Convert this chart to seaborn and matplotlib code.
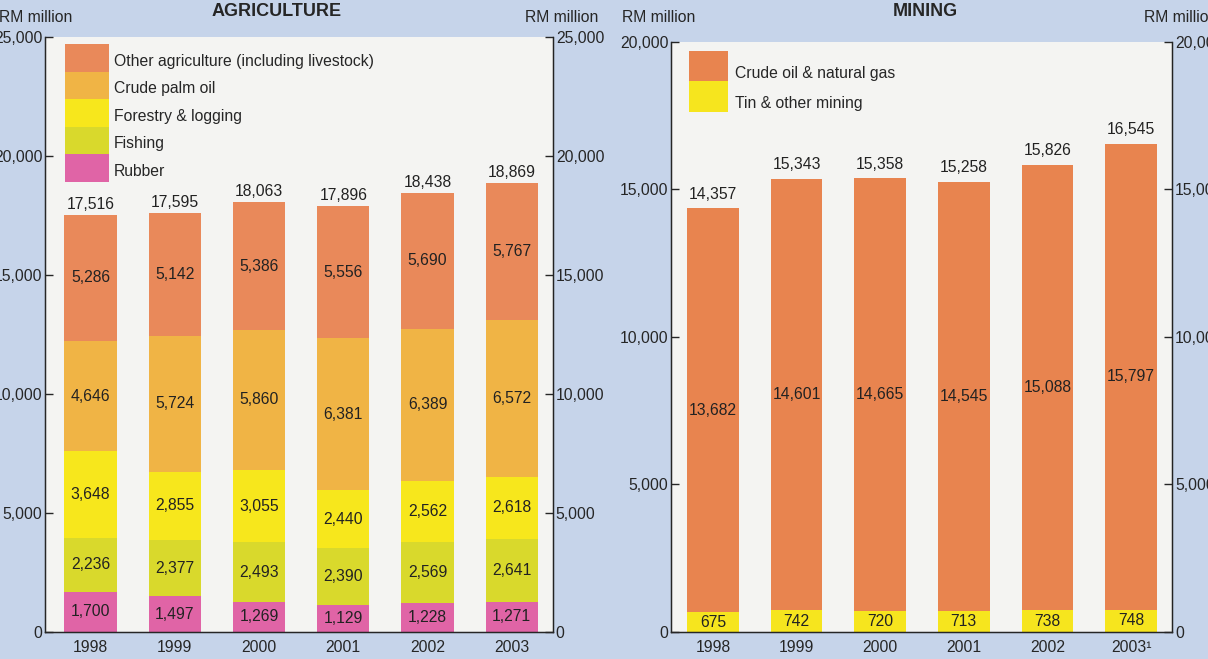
import matplotlib
matplotlib.use("Agg")
import matplotlib.pyplot as plt
import matplotlib.ticker as mticker
from matplotlib.patches import Patch
from matplotlib.transforms import ScaledTranslation
import numpy as np
import pandas as pd
import seaborn as sns

sns.set_style("white")
plt.rcParams["font.family"] = ["Liberation Sans", "DejaVu Sans"]

years = ["1998", "1999", "2000", "2001", "2002", "2003"]
mining_years = ["1998", "1999", "2000", "2001", "2002", "2003\u00b9"]

# agriculture, RM million (bottom -> top of stack)
rubber = [1700, 1497, 1269, 1129, 1228, 1271]
fishing = [2236, 2377, 2493, 2390, 2569, 2641]
forestry = [3648, 2855, 3055, 2440, 2562, 2618]
palm_oil = [4646, 5724, 5860, 6381, 6389, 6572]
other_agri = [5286, 5142, 5386, 5556, 5690, 5767]
agri_totals = [17516, 17595, 18063, 17896, 18438, 18869]

# mining, RM million
tin = [675, 742, 720, 713, 738, 748]
crude_oil = [13682, 14601, 14665, 14545, 15088, 15797]
mining_totals = [14357, 15343, 15358, 15258, 15826, 16545]

agri_names = ["Rubber", "Fishing", "Forestry & logging", "Crude palm oil",
              "Other agriculture (including livestock)"]
agri_colors = ["#e064a6", "#d9d92c", "#f7e71c", "#f0b445", "#e9895a"]
mining_names = ["Tin & other mining", "Crude oil & natural gas"]
mining_colors = ["#f6e51e", "#e8844f"]

bg = "#c6d4ea"
panel = "#f4f4f2"
fs = 11.3

fig = plt.figure(figsize=(12.08, 6.59), dpi=100, facecolor=bg)
ax1 = fig.add_axes([0.0373, 0.041, 0.4205, 0.903])
ax2 = fig.add_axes([0.5555, 0.041, 0.4148, 0.8953])


def stacked(ax, labels, series, colors, totals, ymax, total_pad):
    df = pd.DataFrame({"year": labels})
    cum = np.cumsum(np.array(series), axis=0)
    # draw tallest cumulative bar first so lower segments sit on top
    for i in range(len(series) - 1, -1, -1):
        df["h"] = cum[i]
        sns.barplot(data=df, x="year", y="h", color=colors[i], saturation=1,
                    width=0.62, errorbar=None, ax=ax, linewidth=0)
    for i, s in enumerate(series):
        low = cum[i] - np.array(s)
        for j, v in enumerate(s):
            ax.text(j, low[j] + v / 2, f"{v:,}", ha="center", va="center",
                    fontsize=fs, color="#222222")
    for j, t in enumerate(totals):
        ax.annotate(f"{t:,}", (j, t), xytext=(0, total_pad), textcoords="offset points",
                    ha="center", va="bottom", fontsize=fs, color="#222222")

    ax.set_facecolor(panel)
    ax.set_ylim(0, ymax)
    ax.set_xlabel("")
    ax.set_ylabel("")
    ax.yaxis.set_major_locator(mticker.MultipleLocator(5000))
    ax.yaxis.set_major_formatter(mticker.FuncFormatter(lambda v, p: f"{int(v):,}"))
    ax.tick_params(axis="y", direction="in", length=6, width=1, labelsize=fs, pad=2)
    ax.tick_params(axis="x", which="major", length=0, labelsize=fs, pad=6)
    ax.xaxis.set_minor_locator(mticker.FixedLocator([0.5, 1.5, 2.5, 3.5, 4.5]))
    ax.tick_params(axis="x", which="minor", direction="in", length=9, width=1)
    ax.spines["top"].set_visible(False)
    for sp in ["left", "right", "bottom"]:
        ax.spines[sp].set_color("#222222")
        ax.spines[sp].set_linewidth(1)

    axr = ax.twinx()
    axr.set_ylim(0, ymax)
    axr.yaxis.set_major_locator(mticker.MultipleLocator(5000))
    axr.yaxis.set_major_formatter(mticker.FuncFormatter(lambda v, p: f"{int(v):,}"))
    axr.tick_params(axis="y", direction="in", length=6, width=1, labelsize=fs, pad=2)
    axr.spines["top"].set_visible(False)
    axr.spines["right"].set_color("#222222")


stacked(ax1, years, [rubber, fishing, forestry, palm_oil, other_agri],
        agri_colors, agri_totals, 25000, 2)
ax1.set_xlim(-0.54, 5.49)

stacked(ax2, mining_years, [tin, crude_oil], mining_colors, mining_totals, 20000, 5)
ax2.set_xlim(-0.5, 5.49)

h1 = [Patch(facecolor=c, edgecolor="none") for c in agri_colors[::-1]]
leg1 = ax1.legend(h1, agri_names[::-1], loc="upper left", bbox_to_anchor=(0.039, 0.988),
                  frameon=False, fontsize=fs, handlelength=2.81, handleheight=2.32,
                  labelspacing=0, handletextpad=0.31, borderaxespad=0, borderpad=0)

h2 = [Patch(facecolor=c, edgecolor="none") for c in mining_colors[::-1]]
leg2 = ax2.legend(h2, mining_names[::-1], loc="upper left", bbox_to_anchor=(0.036, 0.985),
                  frameon=False, fontsize=fs, handlelength=2.5, handleheight=2.6,
                  labelspacing=0, handletextpad=0.4, borderaxespad=0, borderpad=0)

# legend labels sit a little below the middle of their swatches in the original
for leg, dy in [(leg1, 3), (leg2, 7)]:
    for t in leg.get_texts():
        t.set_transform(t.get_transform() + ScaledTranslation(0, -dy / 100, fig.dpi_scale_trans))

fig.text(277 / 1208, 1 - 11 / 659, "AGRICULTURE", ha="center", va="center",
         fontsize=13, fontweight="bold")
fig.text(925 / 1208, 1 - 12 / 659, "MINING", ha="center", va="center",
         fontsize=13, fontweight="bold")
for x in [-1, 525, 622, 1144]:
    fig.text(x / 1208, 1 - 18 / 659, "RM million", ha="left", va="center",
             fontsize=fs)

fig.savefig("out.png", dpi=100, facecolor=bg)
